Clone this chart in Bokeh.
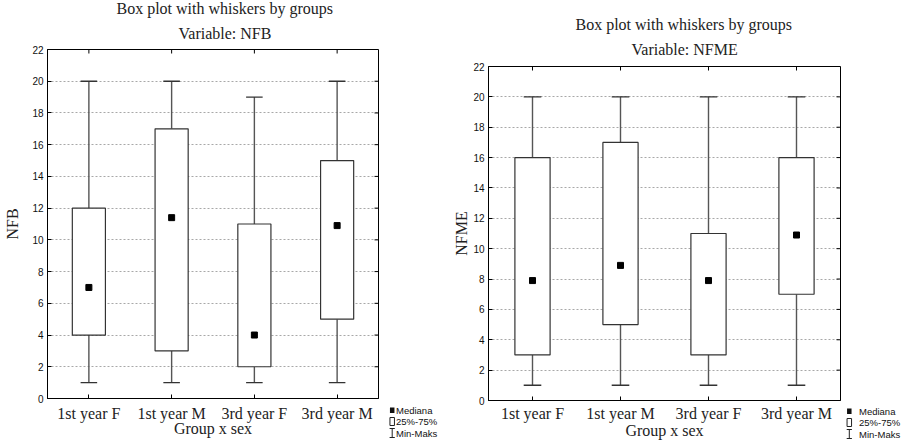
from bokeh.plotting import figure
from bokeh.models import Range1d, FactorRange, FixedTicker, ColumnDataSource, Title
from bokeh.layouts import row
from bokeh.transform import dodge
from bokeh.core.properties import value
from bokeh.embed import file_html
from bokeh.resources import INLINE

# ---------------- data ----------------
groups = ["1st year F", "1st year M", "3rd year F", "3rd year M"]
y_ticks = [0, 2, 4, 6, 8, 10, 12, 14, 16, 18, 20, 22]

nfb_min = [1, 1, 1, 1]
nfb_q1 = [4, 3, 2, 5]
nfb_med = [7, 11.4, 4, 10.9]
nfb_q3 = [12, 17, 11, 15]
nfb_max = [20, 20, 19, 20]

nfme_min = [1, 1, 1, 1]
nfme_q1 = [3, 5, 3, 7]
nfme_med = [7.9, 8.9, 7.9, 10.9]
nfme_q3 = [16, 17, 11, 16]
nfme_max = [20, 20, 20, 20]

title_line1 = "Box plot with whiskers by groups"
x_label = "Group x sex"
legend_texts = ["Mediana", "25%-75%", "Min-Maks"]

SERIF = "Liberation Serif"
SANS = "Liberation Sans"
TICK = 4  # px, inward tick length
H = 444


def no_align(p):
    if "frame_align" in p.properties():
        p.frame_align = False


def panel(width, fl, ft, fw, fh, variable, mins, q1, med, q3, maxs,
          t1_off, t1_so, t2_off, t2_so, yl_standoff, xt_standoff, xl_standoff):
    src = ColumnDataSource(dict(g=groups, mn=mins, q1=q1, med=med, q3=q3, mx=maxs))
    p = figure(width=width, height=H, x_range=FactorRange(*groups),
               y_range=Range1d(0, 22), output_backend="svg", toolbar_location=None,
               min_border_left=fl, min_border_right=width - fl - fw,
               min_border_top=ft, min_border_bottom=H - ft - fh)
    no_align(p)
    p.background_fill_color = "white"
    p.border_fill_color = "white"
    p.outline_line_color = "black"
    p.outline_line_width = 1
    p.outline_line_alpha = 1

    p.xgrid.visible = False
    p.ygrid.ticker = FixedTicker(ticks=y_ticks)
    p.ygrid.grid_line_color = "#a8a8a8"
    p.ygrid.grid_line_dash = "2 2"

    ya = p.yaxis[0]
    ya.ticker = FixedTicker(ticks=y_ticks)
    ya.major_tick_in = TICK
    ya.major_tick_out = 0
    ya.minor_tick_line_color = None
    ya.axis_line_color = "black"
    ya.major_tick_line_color = "black"
    ya.major_label_text_font = SANS
    ya.major_label_text_font_size = "10px"
    ya.major_label_text_color = "#111111"
    ya.major_label_standoff = 4
    ya.axis_label = variable
    ya.axis_label_text_font = SERIF
    ya.axis_label_text_font_size = "16px"
    ya.axis_label_text_font_style = "normal"
    ya.axis_label_text_color = "#222222"
    ya.axis_label_standoff = yl_standoff

    xa = p.xaxis[0]
    xa.major_tick_in = TICK
    xa.major_tick_out = 0
    xa.axis_line_color = "black"
    xa.major_tick_line_color = "black"
    xa.major_label_text_font = SERIF
    xa.major_label_text_font_size = "16px"
    xa.major_label_text_color = "#222222"
    xa.major_label_standoff = xt_standoff
    xa.axis_label = x_label
    xa.axis_label_text_font = SERIF
    xa.axis_label_text_font_size = "16px"
    xa.axis_label_text_font_style = "normal"
    xa.axis_label_text_color = "#222222"
    xa.axis_label_standoff = xl_standoff

    # inward ticks on the right and top edges of the frame
    tx = TICK / (fw / len(groups))
    ty = TICK / (fh / 22.0)
    rsrc = ColumnDataSource(dict(f=[groups[-1]] * len(y_ticks), y=y_ticks))
    p.segment(x0=dodge("f", 0.5 - tx, range=p.x_range), y0="y",
              x1=dodge("f", 0.5, range=p.x_range), y1="y", source=rsrc,
              line_color="black", line_width=1)
    tsrc = ColumnDataSource(dict(g=groups, y0=[22 - ty] * len(groups), y1=[22] * len(groups)))
    p.segment(x0="g", y0="y0", x1="g", y1="y1", source=tsrc, line_color="black", line_width=1)

    wcol = "#555555"
    p.segment(x0="g", y0="q3", x1="g", y1="mx", source=src, line_color=wcol, line_width=1.4)
    p.segment(x0="g", y0="mn", x1="g", y1="q1", source=src, line_color=wcol, line_width=1.4)
    p.segment(x0=dodge("g", -0.1, range=p.x_range), y0="mx",
              x1=dodge("g", 0.1, range=p.x_range), y1="mx", source=src,
              line_color="#333333", line_width=1.4)
    p.segment(x0=dodge("g", -0.1, range=p.x_range), y0="mn",
              x1=dodge("g", 0.1, range=p.x_range), y1="mn", source=src,
              line_color="#333333", line_width=1.4)
    p.vbar(x="g", top="q3", bottom="q1", width=0.4, source=src, fill_color="white",
           line_color="#333333", line_width=1.2)
    p.scatter(x="g", y="med", source=src, marker="square", size=6, fill_color="black",
              line_color="black")

    # two-line title (second line added first: it sits next to the frame)
    p.add_layout(Title(text="Variable: " + variable, align="left", offset=t2_off,
                       text_font=SERIF, text_font_size="16px", text_font_style="normal",
                       text_color="#222222", standoff=t2_so), "above")
    p.add_layout(Title(text=title_line1, align="left", offset=t1_off,
                       text_font=SERIF, text_font_size="16px", text_font_style="normal",
                       text_color="#222222", standoff=t1_so), "above")
    return p


def legend_fig(x0, width, sym_x, txt_x, rows):
    f = figure(width=width, height=H, x_range=Range1d(x0, x0 + width), y_range=Range1d(H, 0),
               output_backend="svg", toolbar_location=None, min_border=0,
               x_axis_location=None, y_axis_location=None)
    no_align(f)
    f.outline_line_color = None
    f.grid.visible = False
    f.background_fill_color = "white"
    f.border_fill_color = "white"
    # Mediana: filled square
    f.rect(x=[sym_x], y=[rows[0]], width=4.5, height=5.5, fill_color="#111111", line_color=None)
    # 25%-75%: empty box
    f.rect(x=[sym_x], y=[rows[1]], width=4.5, height=8, fill_color="white",
           line_color="#222222", line_width=1)
    # Min-Maks: whisker symbol
    r = rows[2]
    f.segment(x0=[sym_x, sym_x - 2.6, sym_x - 2.6], y0=[r - 4.5, r - 4.5, r + 4.5],
              x1=[sym_x, sym_x + 2.6, sym_x + 2.6], y1=[r + 4.5, r - 4.5, r + 4.5],
              line_color="#222222", line_width=1)
    f.text(x=[txt_x] * 3, y=rows, text=legend_texts, text_font=value(SANS),
           text_font_size="9.5px", text_baseline="middle", text_align="left",
           text_color="#111111")
    return f


p1 = panel(385, 47, 49, 331, 349, "NFB", nfb_min, nfb_q1, nfb_med, nfb_q3, nfb_max,
           t1_off=69, t1_so=-5, t2_off=131, t2_so=16,
           yl_standoff=8, xt_standoff=6, xl_standoff=-5)
leg1 = legend_fig(385, 65, 391.7, 395.5, [409.8, 421, 432.5])
p2 = panel(395, 35, 66, 355, 334, "NFME", nfme_min, nfme_q1, nfme_med, nfme_q3, nfme_max,
           t1_off=87, t1_so=-4, t2_off=143, t2_so=17,
           yl_standoff=0, xt_standoff=4, xl_standoff=-3)
leg2 = legend_fig(845, 57, 848.8, 858.5, [410.8, 422, 433.5])

layout = row(p1, leg1, p2, leg2)
open("out.html", "w").write(file_html(layout, INLINE))
